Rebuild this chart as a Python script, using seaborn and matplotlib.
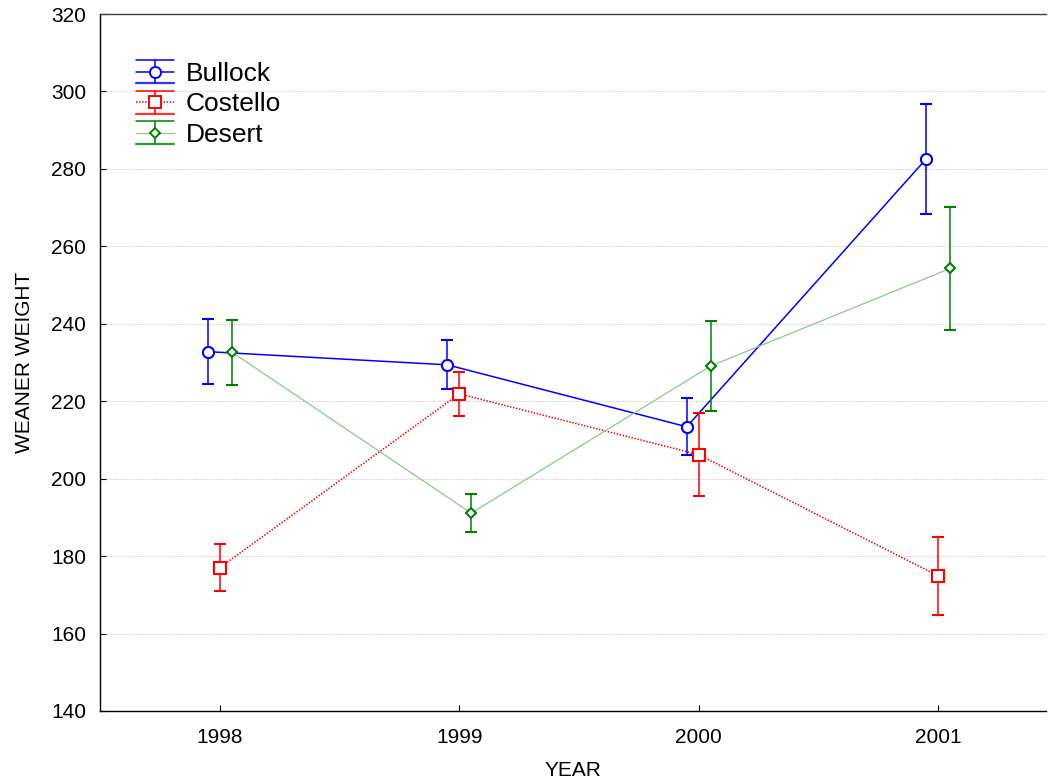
import numpy as np
import pandas as pd
import matplotlib
matplotlib.use("Agg")
import matplotlib.pyplot as plt
from matplotlib.legend_handler import HandlerBase
from matplotlib.lines import Line2D
import seaborn as sns

# Mean weaner weight per year and site, with error half-widths
years = [1998, 1999, 2000, 2001]
sites = ["Bullock", "Costello", "Desert"]
bullock_mean = [232.8, 229.4, 213.4, 282.6]
bullock_err = [8.4, 6.3, 7.4, 14.2]
costello_mean = [177.0, 221.9, 206.2, 174.9]
costello_err = [6.1, 5.6, 10.8, 10.1]
desert_mean = [232.7, 191.1, 229.1, 254.3]
desert_err = [8.4, 4.9, 11.7, 15.9]
y_ticks = [140, 160, 180, 200, 220, 240, 260, 280, 300, 320]

means = {"Bullock": bullock_mean, "Costello": costello_mean, "Desert": desert_mean}
errs = {"Bullock": bullock_err, "Costello": costello_err, "Desert": desert_err}

sns.set_theme(style="white")
plt.rcParams["font.family"] = ["Liberation Sans", "DejaVu Sans"]
plt.rcParams["text.color"] = "black"
plt.rcParams["axes.labelcolor"] = "black"

fig = plt.figure(figsize=(10.49, 7.82), dpi=100)
ax = fig.add_axes([100 / 1049, 1 - 711 / 782, 946 / 1049, 697 / 782])

styles = {
    "Bullock": dict(line="#0000ff", err="#0000ff", ls="-", lw=1.1, marker="o", ms=8, dx=-0.05),
    "Costello": dict(line="#ff0000", err="#ff0000", ls=(0, (1, 1)), lw=1.1, marker="s", ms=8, dx=0.0),
    "Desert": dict(line="#8cc88c", err="#008000", ls="-", lw=0.9, marker="D", ms=5.5, dx=0.05),
}

rows = []
for s in sites:
    for yr, m, e in zip(years, means[s], errs[s]):
        rows.append({"site": s, "year": yr, "x": yr + styles[s]["dx"], "weight": m, "err": e})
df = pd.DataFrame(rows)


class MeanErrHandler(HandlerBase):
    """Legend key: mean line with marker between two horizontal bound lines."""

    def create_artists(self, legend, orig_handle, xdescent, ydescent,
                       width, height, fontsize, trans):
        st = orig_handle
        mid = height / 2 - ydescent
        top = mid + height * 0.62
        bot = mid - height * 0.62
        x0, x1 = -xdescent, -xdescent + width
        xc = (x0 + x1) / 2
        arts = [
            Line2D([x0, x1], [top, top], color=st["err"], lw=1.1),
            Line2D([x0, x1], [bot, bot], color=st["err"], lw=1.6, alpha=0.8),
            Line2D([x0, x1], [mid, mid], color=st["line"], lw=st["lw"], linestyle=st["ls"]),
            Line2D([xc, xc], [bot, top], color=st["err"], lw=1.1),
            Line2D([xc], [mid], marker=st["marker"], markersize=st["ms"],
                   markerfacecolor="white", markeredgecolor=st["err"],
                   markeredgewidth=1.4, linestyle="none"),
        ]
        for a in arts:
            a.set_transform(trans)
        return arts


class KeyStyle(dict):
    pass


for s in sites:
    st = styles[s]
    d = df[df["site"] == s]
    sns.lineplot(data=d, x="x", y="weight", ax=ax, color=st["line"],
                 linestyle=st["ls"], linewidth=st["lw"], zorder=2, legend=False)
    ax.errorbar(d["x"], d["weight"], yerr=d["err"], fmt=st["marker"],
                color=st["err"], ecolor=st["err"], elinewidth=1.1,
                capsize=4, capthick=1.1, markersize=st["ms"],
                markerfacecolor="white", markeredgecolor=st["err"],
                markeredgewidth=1.5, zorder=3)

ax.set_xlim(1997.5, 2001.45)
ax.set_ylim(140, 320)
ax.set_xticks(years)
ax.set_xticklabels([str(y) for y in years])
ax.set_yticks(y_ticks)
ax.yaxis.grid(True, color="#cfcfcf", linestyle=(0, (1, 1)), linewidth=0.8)
ax.xaxis.grid(False)
ax.set_axisbelow(True)

for sp in ax.spines.values():
    sp.set_color("black")
    sp.set_linewidth(1.0)
ax.spines["right"].set_visible(False)
ax.spines["top"].set_color("#404040")
ax.tick_params(axis="both", direction="in", length=4, width=0.8, colors="black",
               labelsize=15, left=True, bottom=True)
ax.tick_params(axis="x", pad=12)
ax.tick_params(axis="y", pad=10)

ax.set_xlabel("YEAR", fontsize=15, labelpad=10, color="black")
ax.set_ylabel("WEANER WEIGHT", fontsize=15, labelpad=12, color="black")

keys = [KeyStyle(styles[s]) for s in sites]
leg = ax.legend(handles=keys, labels=sites, loc="upper left",
                handler_map={KeyStyle: MeanErrHandler()},
                bbox_to_anchor=(0.0182, 0.958), frameon=False, fontsize=19,
                handlelength=1.45, handleheight=0.7, handletextpad=0.45,
                labelspacing=0.25, borderpad=0.2)
for t in leg.get_texts():
    t.set_color("black")

fig.savefig("out.png", dpi=100)
